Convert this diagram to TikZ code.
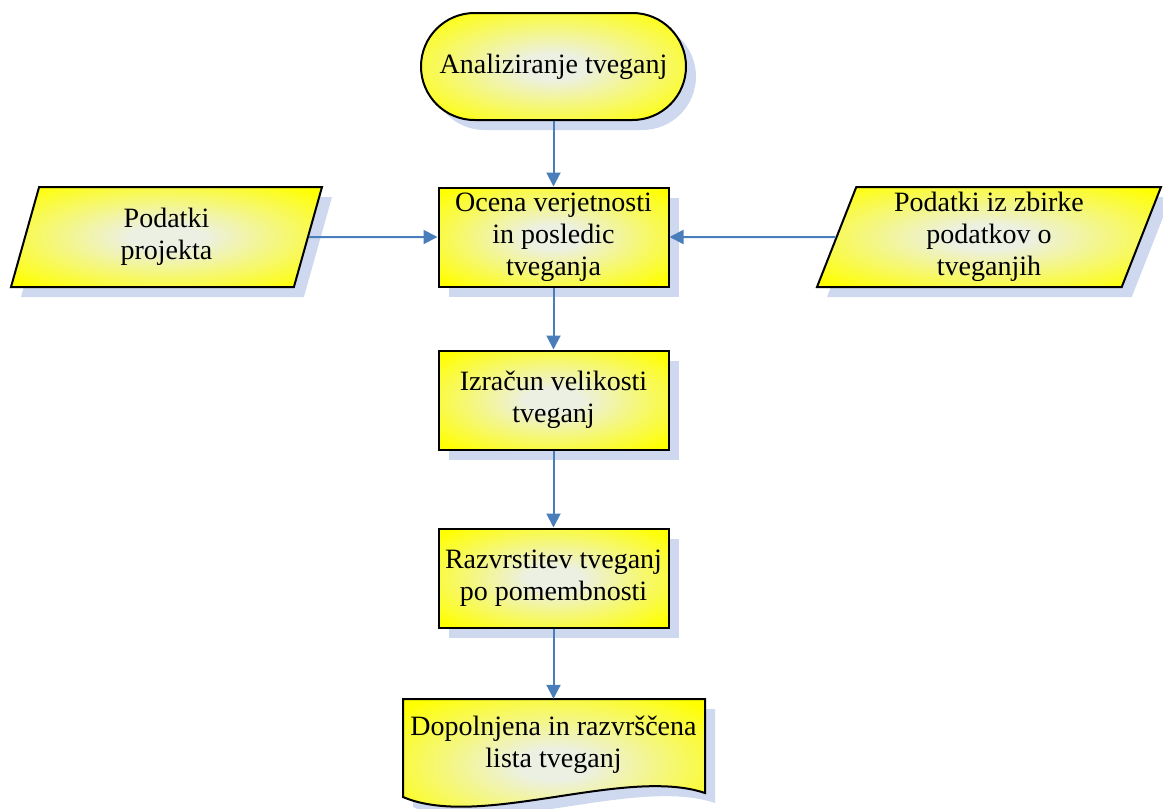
\documentclass[tikz,border=0pt]{standalone}
\usepackage{fontspec}
\setmainfont{Liberation Serif}
\usetikzlibrary{arrows.meta,shapes.geometric,shadows}

\definecolor{glowc}{RGB}{236,240,226}
\definecolor{flowyellow}{RGB}{255,255,0}
\definecolor{shadowc}{RGB}{206,216,238}
\definecolor{linkblue}{RGB}{74,126,187}
\pgfdeclareradialshading{glow}{\pgfpointorigin}{color(0bp)=(glowc); color(6bp)=(glowc); color(33bp)=(flowyellow); color(100bp)=(flowyellow)}

\begin{document}
\begin{tikzpicture}[x=1pt,y=-1pt,
  base/.style={draw=black, line width=2pt, shading=glow, align=center,
    inner sep=0pt, font=\fontsize{28}{32}\selectfont,
    drop shadow={shadow xshift=10pt, shadow yshift=-10pt, fill=shadowc, opacity=1, draw=none}},
  terminal/.style={base, rectangle, rounded corners=53.5pt,
    minimum width=265pt, minimum height=107pt},
  process/.style={base, rectangle, minimum width=230pt, minimum height=99pt},
  datain/.style={base, trapezium, trapezium stretches body, minimum height=100pt},
  conn/.style={draw=linkblue, line width=2pt, -{Triangle[length=14pt,width=14pt]}}]

\useasboundingbox (0,0) rectangle (1163,809);

% start / end
\node[terminal] (start) at (553.5,66.5) {Analiziranje tveganj};

% processing steps
\node[process] (assess) at (553.5,237) {Ocena verjetnosti\\in posledic\\tveganja};
\node[process] (size) at (553.5,400) {Izračun velikosti\\tveganj};
\node[process] (rank) at (553.5,578) {Razvrstitev tveganj\\po pomembnosti};

% input data
\node[datain, trapezium left angle=63.9, trapezium right angle=116.1,
      minimum width=311pt] (projdata) at (166.5,237) {Podatki\\projekta};
\node[datain, trapezium left angle=66.3, trapezium right angle=113.7,
      minimum width=344pt] (riskdb) at (989,237) {Podatki iz zbirke\\podatkov o\\tveganjih};

% output document with wavy bottom edge
\def\docoutline{(403,699) -- (705,699) -- (705,793)
  .. controls (625,766) and (480,830) .. (403,797) -- cycle}
\fill[shadowc, shift={(10,10)}] \docoutline;
\shade[shading=glow] \docoutline;
\draw[line width=2pt, line join=miter] \docoutline;
\node[align=center, inner sep=0pt, minimum width=302pt, minimum height=92pt,
      font=\fontsize{28}{32}\selectfont] (list) at (553.5,745)
  {Dopolnjena in razvrščena\\lista tveganj};

% connectors
\draw[conn] (start) -- (assess);
\draw[conn] (projdata) -- (assess);
\draw[conn] (riskdb) -- (assess);
\draw[conn] (assess) -- (size);
\draw[conn] (size) -- (rank);
\draw[conn] (rank) -- (list);
\end{tikzpicture}
\end{document}
